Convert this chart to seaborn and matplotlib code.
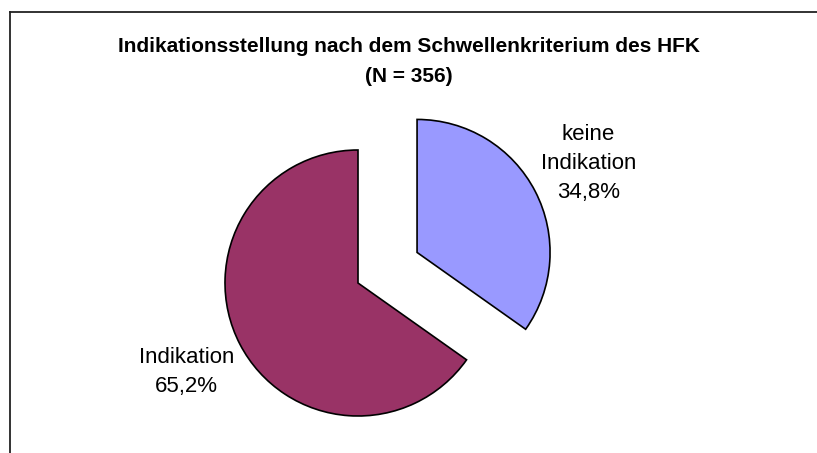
import matplotlib
matplotlib.use("Agg")
import matplotlib.pyplot as plt
import seaborn as sns

# data
categories = ["keine\nIndikation", "Indikation"]
shares = [34.8, 65.2]
slice_colors = ["#9999FF", "#993366"]
title_lines = ["Indikationsstellung nach dem Schwellenkriterium des HFK", "(N = 356)"]

sns.set_theme(style="white")
plt.rcParams["font.family"] = ["Liberation Sans", "DejaVu Sans"]

W, H = 817, 453
fig = plt.figure(figsize=(W / 100, H / 100), dpi=100)

# frame (top + left border like the original chart area)
frame = fig.add_axes([10 / W, 0, 1 - 10 / W, 1 - 11.5 / H])
frame.set_xticks([])
frame.set_yticks([])
for side in ["right", "bottom"]:
    frame.spines[side].set_visible(False)
for side in ["left", "top"]:
    frame.spines[side].set_color("#222222")
    frame.spines[side].set_linewidth(1.3)
frame.patch.set_alpha(0)

labels = [f"{c}\n{v:.1f}%".replace(".", ",") for c, v in zip(categories, shares)]

ax = fig.add_axes([0, 0, 1, 1])
ax.patch.set_alpha(0)
wedges, texts = ax.pie(
    shares,
    labels=labels,
    colors=slice_colors,
    startangle=90,
    counterclock=False,
    explode=[0.5, 0],
    labeldistance=1.45,
    wedgeprops=dict(edgecolor="black", linewidth=1.2),
    textprops=dict(fontsize=16, color="black"),
)
for t in texts:
    t.set_horizontalalignment("center")
    t.set_verticalalignment("center")
    t.set_multialignment("center")
    t.set_linespacing(1.5)

# scale: 1 data unit = 133 px, pie centre at (358, 283) px from top-left
r, cx, cy = 133, 358, 283
ax.set_xlim(-cx / r, (W - cx) / r)
ax.set_ylim((cy - H) / r, cy / r)
ax.set_aspect("auto")
ax.axis("off")

fig.text(0.5, 1 - 47 / H, title_lines[0], ha="center", va="center",
         fontsize=15, fontweight="bold", color="black")
fig.text(0.5, 1 - 77 / H, title_lines[1], ha="center", va="center",
         fontsize=15, fontweight="bold", color="black")

fig.savefig("out.png", dpi=100, facecolor="white")
